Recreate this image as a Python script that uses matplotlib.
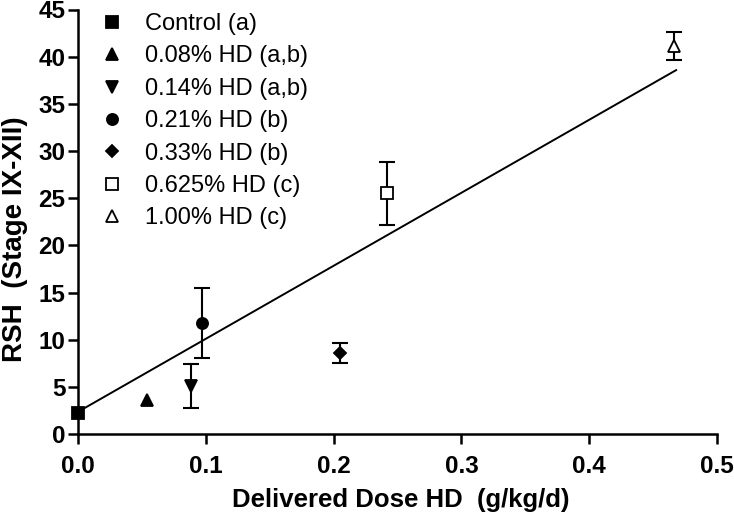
import numpy as np
import matplotlib
matplotlib.use('Agg')
from matplotlib import pyplot as plt

plt.rcParams['font.family'] = ['Liberation Sans', 'DejaVu Sans']

# Data
groups = ['Control (a)', '0.08% HD (a,b)', '0.14% HD (a,b)', '0.21% HD (b)',
          '0.33% HD (b)', '0.625% HD (c)', '1.00% HD (c)']
dose = [0.0, 0.0537, 0.0884, 0.097, 0.205, 0.2415, 0.4666]
rsh = [2.2, 3.6, 5.1, 11.8, 8.6, 25.5, 41.1]
err = [0.0, 0.0, 2.35, 3.7, 1.05, 3.3, 1.5]
markers = ['s', '^', 'v', 'o', 'D', 's', '^']
filled = [True, True, True, True, True, False, False]
msizes = [8, 8.5, 8.5, 8, 6.5, 8.5, 9]

# fitted line (intercept, slope) and its x range
fit_coef = [2.35, 77.4]
fit_range = [0.0, 0.468]

fig = plt.figure(figsize=(7.34, 5.15), dpi=100)
ax = fig.add_axes([78 / 734, 1 - 434 / 515, 639 / 734, 424.5 / 515])

xf = np.linspace(fit_range[0], fit_range[1], 50)
ax.plot(xf, fit_coef[0] + fit_coef[1] * xf, color='black', lw=1.4, zorder=2)

for g, x, y, e, m, f, ms in zip(groups, dose, rsh, err, markers, filled, msizes):
    if e > 0:
        ax.errorbar(x, y, yerr=e, fmt='none', ecolor='black', elinewidth=1.5,
                    capsize=5.5, capthick=1.5, zorder=3)
    ax.plot(x, y, linestyle='none', marker=m, markersize=ms,
            markerfacecolor='black' if f else 'white', markeredgecolor='black',
            markeredgewidth=1.3, label=g, zorder=4, clip_on=False)

ax.set_xlim(0, 0.5)
ax.set_ylim(0, 45)
ax.set_xticks([0.0, 0.1, 0.2, 0.3, 0.4, 0.5])
ax.set_xticklabels(['0.0', '0.1', '0.2', '0.3', '0.4', '0.5'])
ax.set_yticks(range(0, 46, 5))

for s in ['top', 'right']:
    ax.spines[s].set_visible(False)
for s in ['left', 'bottom']:
    ax.spines[s].set_linewidth(1.8)
ax.tick_params(direction='out', length=7, width=1.8, labelsize=17.5)
ax.tick_params(axis='x', pad=8)
ax.tick_params(axis='y', pad=2)
for lbl in ax.get_xticklabels() + ax.get_yticklabels():
    lbl.set_fontweight('bold')

ax.set_xlabel('Delivered Dose HD  (g/kg/d)', fontsize=18.5, fontweight='bold')
ax.set_ylabel('RSH  (Stage IX-XII)', fontsize=20, fontweight='bold')
ax.xaxis.set_label_coords((401 - 78) / 639, -(500 - 434) / 424.5)
ax.yaxis.set_label_coords(-(78 - 15) / 639, (434 - 239) / 424.5)
ax.xaxis.label.set_va('center')
ax.yaxis.label.set_va('center')

ax.legend(loc='upper left', bbox_to_anchor=(0.0197, 1.014), borderaxespad=0,
          frameon=False, fontsize=17, handletextpad=0.9, labelspacing=0.44,
          numpoints=1, handlelength=1.0)

fig.savefig('out.png', dpi=100)
